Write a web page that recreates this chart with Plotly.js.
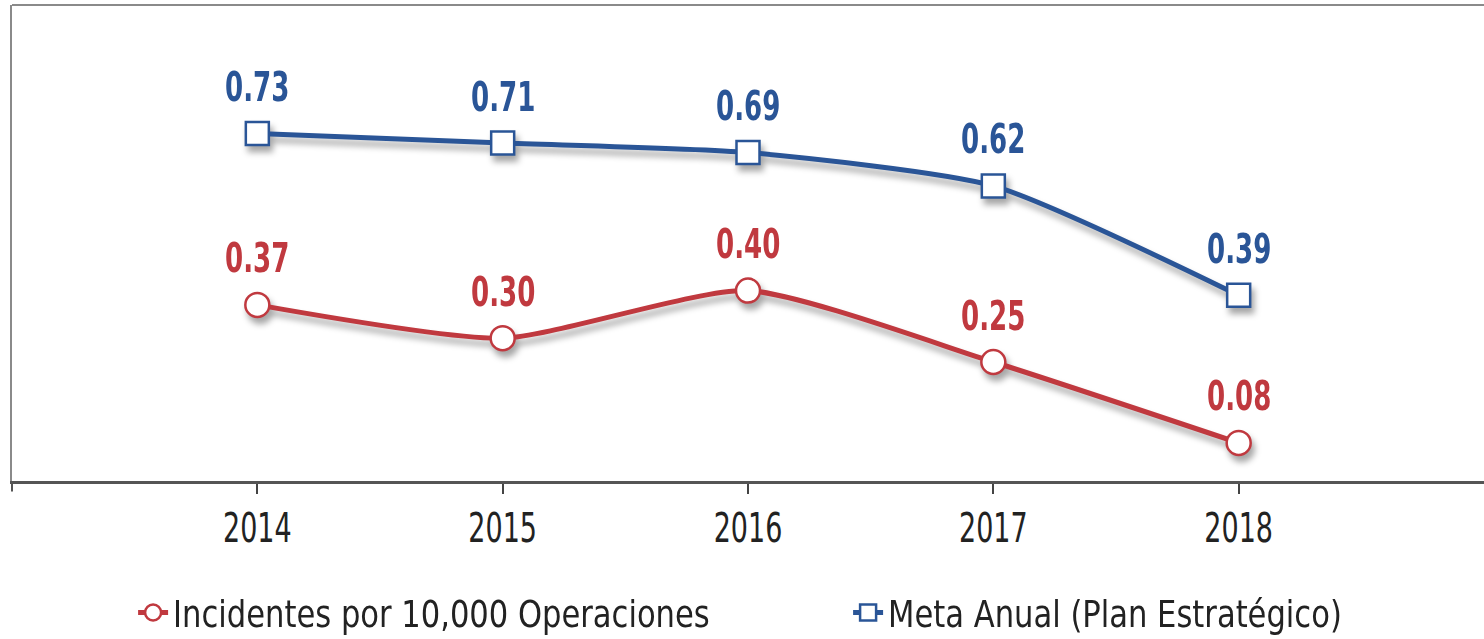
<!DOCTYPE html>
<html>
<head>
<meta charset="utf-8">
<script src="https://cdn.plot.ly/plotly-3.0.1.min.js"></script>
<style>
  html, body { margin: 0; padding: 0; background: #fff; }
  #chart { width: 1484px; height: 639px; }
  .scatterlayer .trace { filter: drop-shadow(3px 6px 3px rgba(0,0,0,0.35)); }
  g.xtick { transform-box: fill-box; transform-origin: center; transform: scaleY(1.35); }
  text.legendtext { transform-box: fill-box; transform-origin: left center; transform: scaleY(1.1); }
  text.annotation-text { transform-box: fill-box; transform-origin: center; transform: scaleY(1.4); }
</style>
</head>
<body>
<div id="chart"></div>
<script>
const years = [2014, 2015, 2016, 2017, 2018];
const incidentes = [0.37, 0.30, 0.40, 0.25, 0.08];
const meta = [0.73, 0.71, 0.69, 0.62, 0.39];
const nameIncidentes = 'Incidentes por 10,000 Operaciones';
const nameMeta = 'Meta Anual (Plan Estratégico)';

const FONT = '"DejaVu Sans Condensed", "DejaVu Sans", sans-serif';
const RED = '#C0393F';
const BLUE = '#2A5597';

const traces = [
  {
    x: years, y: incidentes, name: nameIncidentes,
    type: 'scatter', mode: 'lines+markers',
    line: { color: RED, width: 5, shape: 'spline', smoothing: 0.6 },
    marker: { symbol: 'circle', size: 24, color: '#ffffff', line: { color: RED, width: 2.5 } },
    hoverinfo: 'x+y'
  },
  {
    x: years, y: meta, name: nameMeta,
    type: 'scatter', mode: 'lines+markers',
    line: { color: BLUE, width: 5, shape: 'spline', smoothing: 0.6 },
    marker: { symbol: 'square', size: 23, color: '#ffffff', line: { color: BLUE, width: 2.5 } },
    hoverinfo: 'x+y'
  }
];

const annotations = [];
years.forEach((yr, i) => {
  annotations.push({
    x: yr, y: incidentes[i], text: incidentes[i].toFixed(2), showarrow: false,
    yshift: 47, font: { family: FONT, size: 29, color: RED, weight: 'bold' }
  });
  annotations.push({
    x: yr, y: meta[i], text: meta[i].toFixed(2), showarrow: false,
    yshift: 47, font: { family: FONT, size: 29, color: BLUE, weight: 'bold' }
  });
});

const layout = {
  width: 1484, height: 639,
  margin: { l: 12, r: 0, t: 5, b: 158, autoexpand: false },
  paper_bgcolor: '#ffffff', plot_bgcolor: '#ffffff',
  font: { family: FONT, color: '#222222' },
  showlegend: true,
  legend: {
    orientation: 'h', x: 0.568, xanchor: 'center', y: -0.277, yanchor: 'middle',
    font: { family: FONT, size: 34, color: '#222222' },
    bgcolor: 'rgba(0,0,0,0)',
    entrywidth: 670, entrywidthmode: 'pixels', traceorder: 'normal'
  },
  xaxis: {
    range: [2013, 2019], tickvals: years, ticktext: years.map(String),
    showgrid: false, zeroline: false,
    showline: true, linecolor: '#555555', linewidth: 3, mirror: false,
    ticks: 'outside', ticklen: 10, tickwidth: 2, tickcolor: '#444444',
    ticklabelstandoff: 8,
    tickfont: { family: FONT, size: 30, color: '#222222' },
    fixedrange: true
  },
  yaxis: {
    range: [0, 1.0], showgrid: false, zeroline: false,
    showticklabels: false, ticks: '',
    showline: true, linecolor: '#8a8a8a', linewidth: 2, mirror: true,
    fixedrange: true
  },
  shapes: [
    { type: 'line', xref: 'paper', yref: 'paper', x0: 0, x1: 1, y0: 1, y1: 1,
      line: { color: '#8a8a8a', width: 2 } },
    { type: 'line', xref: 'paper', yref: 'paper', x0: 0, x1: 0, y0: 0, y1: -0.022,
      line: { color: '#555555', width: 2 } }
  ],
  annotations: annotations
};

Plotly.newPlot('chart', traces, layout, { displayModeBar: false, staticPlot: true });
</script>
</body>
</html>
